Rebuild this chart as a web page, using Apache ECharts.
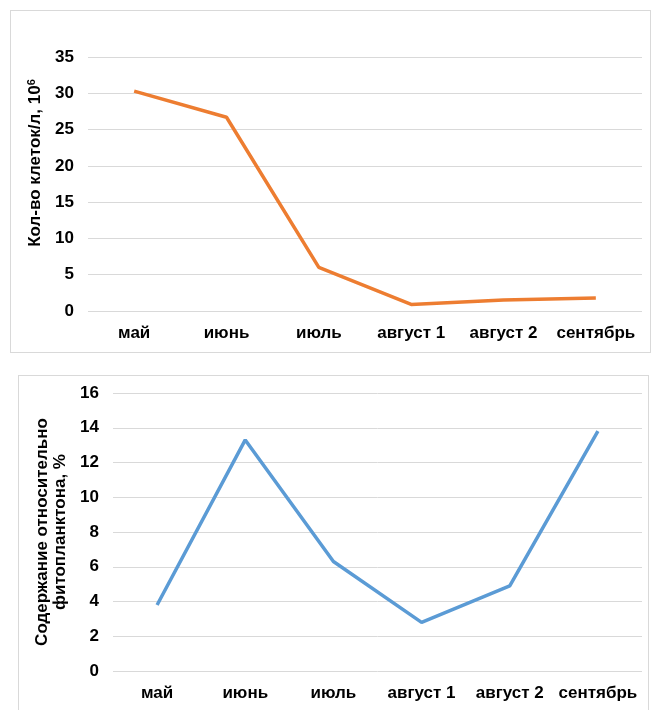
<!DOCTYPE html>
<html><head><meta charset="utf-8">
<script src="https://cdn.jsdelivr.net/npm/echarts@6/dist/echarts.min.js"></script>
<style>
body{margin:0;background:#fff;width:651px;height:710px;overflow:hidden;position:relative}
.panel{position:absolute;border:1px solid #d9d9d9;background:#fff;box-sizing:border-box}
</style></head><body>
<div id="p1" class="panel" style="left:10px;top:10px;width:641px;height:343px"></div>
<div id="p2" class="panel" style="left:18px;top:375px;width:631px;height:345px"></div>
<script>
var categories = ['май','июнь','июль','август 1','август 2','сентябрь'];
var cellCounts = [30.3, 26.7, 6.0, 0.9, 1.5, 1.8];
var phytoShare = [3.8, 13.3, 6.3, 2.8, 4.9, 13.8];
var yTicks1 = {min:0, max:35, interval:5};
var yTicks2 = {min:0, max:16, interval:2};

var FONT = "'Liberation Sans Narrow','Arial Narrow','Liberation Sans',Arial,sans-serif";
var FONT2 = "'Liberation Sans',Arial,sans-serif";

function makeOption(opts){
  return {
    animation:false,
    grid:{left:opts.left, top:opts.top, width:opts.width, height:opts.height},
    xAxis:{type:'category', data:categories, boundaryGap:true,
      axisLine:{show:false}, axisTick:{show:false},
      axisLabel:{interval:0, margin:14, color:'#000', fontFamily:FONT, fontWeight:'bold', fontSize:17}},
    yAxis:{type:'value', min:opts.ticks.min, max:opts.ticks.max, interval:opts.ticks.interval,
      axisLine:{show:false}, axisTick:{show:false},
      splitLine:{lineStyle:{color:'#d9d9d9', width:1}},
      axisLabel:{margin:14, color:'#000', fontFamily:FONT, fontWeight:'bold', fontSize:17},
      name:opts.name, nameLocation:'middle', nameGap:opts.nameGap, nameTextStyle:opts.nameStyle},
    series:[{type:'line', data:opts.data, symbol:'none',
      lineStyle:{color:opts.color, width:3.5}, itemStyle:{color:opts.color}}]
  };
}

var c1 = echarts.init(document.getElementById('p1'), null, {renderer:'canvas'});
c1.setOption(makeOption({left:77, top:46, width:554, height:254, ticks:yTicks1, data:cellCounts, color:'#ED7D31',
  name:'{a|Кол-во клеток/л, 10}{s|6}', nameGap:43,
  nameStyle:{color:'#000', fontFamily:FONT2, fontWeight:'bold', fontSize:17, padding:[0,0,0,42],
    rich:{a:{fontFamily:FONT2, fontWeight:'bold', fontSize:17, color:'#000'},
          s:{fontFamily:FONT2, fontWeight:'bold', fontSize:11, color:'#000', verticalAlign:'top', padding:[0,0,7,0]}}}}));

var c2 = echarts.init(document.getElementById('p2'), null, {renderer:'canvas'});
c2.setOption(makeOption({left:94, top:17, width:529, height:278, ticks:yTicks2, data:phytoShare, color:'#5B9BD5',
  name:'Содержание относительно\nфитопланктона, %', nameGap:44,
  nameStyle:{color:'#000', fontFamily:FONT2, fontWeight:'bold', fontSize:17, lineHeight:18}}));
</script>
</body></html>
